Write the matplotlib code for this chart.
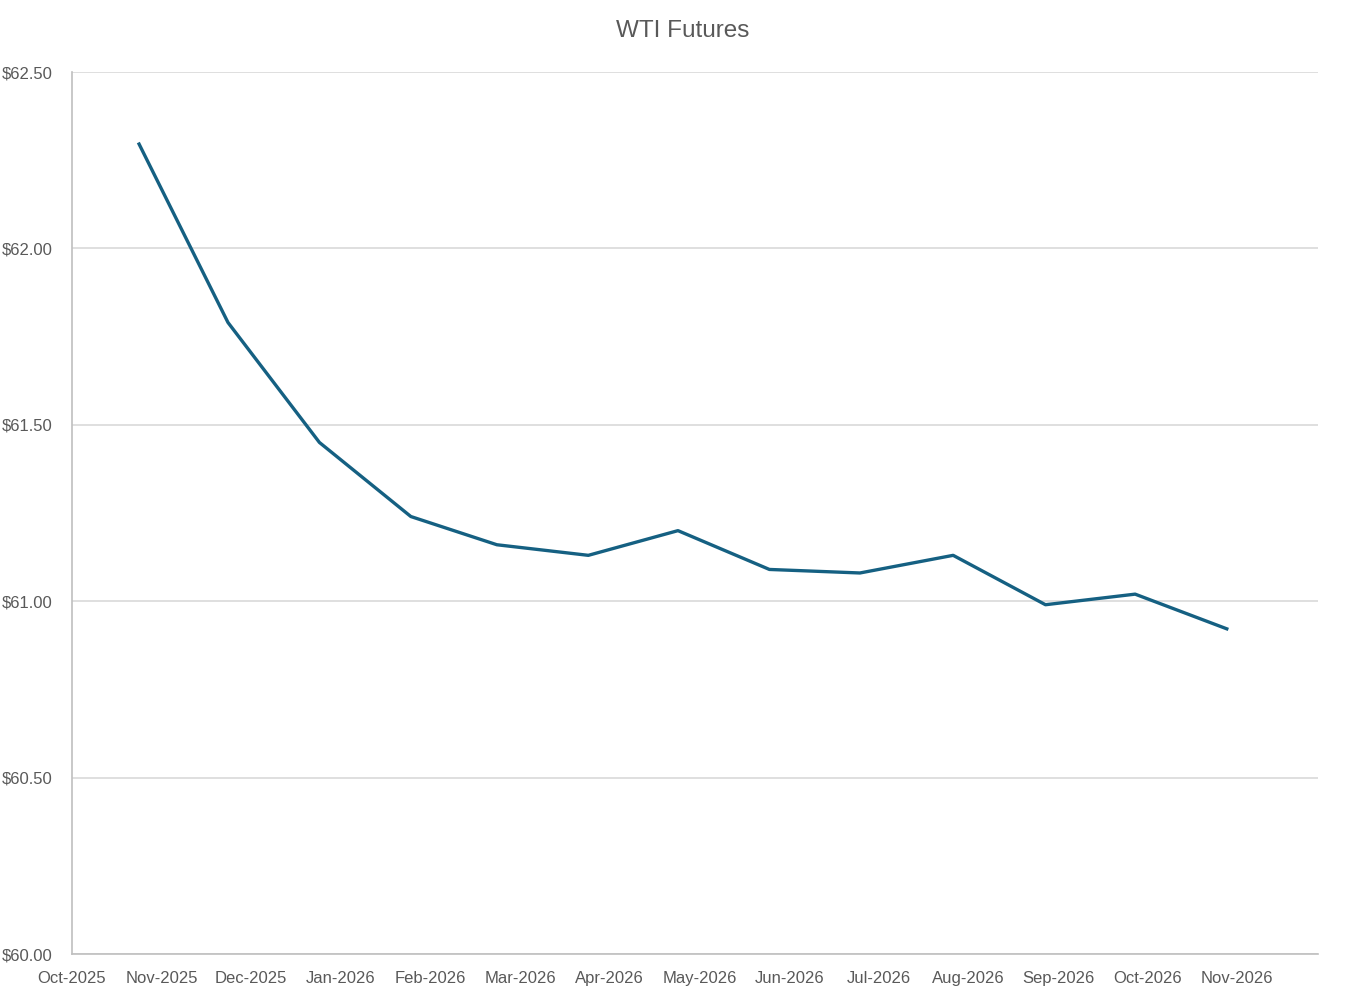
import matplotlib
matplotlib.use("Agg")
import matplotlib.pyplot as plt
from matplotlib.ticker import FuncFormatter

plt.rcParams['font.family'] = ['Liberation Sans', 'DejaVu Sans']

# month labels on the date axis (one per month, Oct-2025 = 0)
month_labels = ["Oct-2025", "Nov-2025", "Dec-2025", "Jan-2026", "Feb-2026", "Mar-2026",
                "Apr-2026", "May-2026", "Jun-2026", "Jul-2026", "Aug-2026", "Sep-2026",
                "Oct-2026", "Nov-2026"]

# settlement points, x in months since 1 Oct 2025
months = [0.74, 1.74, 2.76, 3.78, 4.74, 5.76, 6.76, 7.78, 8.79, 9.83, 10.86, 11.86, 12.90]
price = [62.30, 61.79, 61.45, 61.24, 61.16, 61.13, 61.20, 61.09, 61.08, 61.13, 60.99, 61.02, 60.92]

grey = "#595959"

fig = plt.figure(figsize=(13.51, 9.93), dpi=100)
ax = fig.add_axes([72 / 1351, 1 - 954 / 993, (1318 - 72) / 1351, (954 - 72) / 993])

ax.plot(months, price, color="#156082", linewidth=2.4, solid_capstyle="butt")

ax.set_xlim(0, 13.9)
ax.set_ylim(60, 62.5)
ax.set_xticks(range(len(month_labels)))
ax.set_xticklabels(month_labels)
ax.set_yticks([60.0, 60.5, 61.0, 61.5, 62.0, 62.5])
ax.yaxis.set_major_formatter(FuncFormatter(lambda v, p: f"${v:,.2f}"))
ax.tick_params(length=0, labelsize=12, colors=grey)
ax.tick_params(axis="y", pad=14)
ax.tick_params(axis="x", pad=12)

ax.grid(axis="y", color="#d9d9d9", linewidth=1.2)
ax.set_axisbelow(True)
for s in ["top", "right"]:
    ax.spines[s].set_visible(False)
for s in ["left", "bottom"]:
    ax.spines[s].set_color("#bfbfbf")
    ax.spines[s].set_linewidth(1.2)

fig.text(683 / 1351, 1 - 31 / 993, "WTI Futures", ha="center", va="center",
         fontsize=17.5, color=grey)

fig.savefig("out.png", dpi=100, facecolor="white")
